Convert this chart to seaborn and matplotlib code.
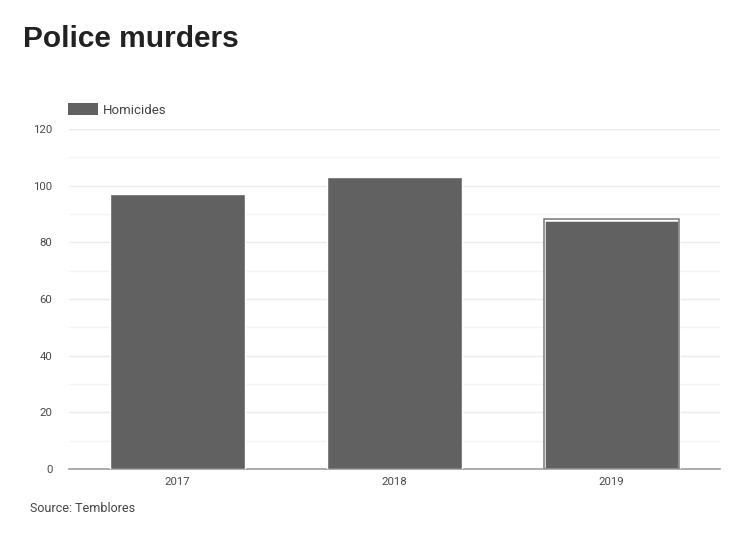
import matplotlib
matplotlib.use("Agg")
import matplotlib.pyplot as plt
import seaborn as sns
import pandas as pd
from matplotlib.patches import Patch

years = ["2017", "2018", "2019"]
homicides = [97, 103, 88]
y_ticks = [0, 20, 40, 60, 80, 100, 120]
minor_ticks = [10, 30, 50, 70, 90, 110]

df = pd.DataFrame({"year": years, "Homicides": homicides})

sns.set_style("white")
plt.rcParams["font.family"] = ["Roboto", "DejaVu Sans"]

fig = plt.figure(figsize=(7.46, 5.36), dpi=100)
ax = fig.add_axes([69 / 746, 1 - 469 / 536, 651 / 746, 340 / 536])

bar_color = "#616161"
sns.barplot(data=df, x="year", y="Homicides", color=bar_color, width=0.62,
            saturation=1, ax=ax, zorder=3)

# highlight outline on the last bar
last = ax.patches[-1]
last.set_edgecolor("white")
last.set_linewidth(1.8)
x0, w, h = last.get_x(), last.get_width(), last.get_height()
ax.add_patch(plt.Rectangle((x0, 0), w, h + 0.3, fill=False,
                           edgecolor="#777777", linewidth=1.1, zorder=4))

ax.set_ylim(0, 120)
ax.set_xlim(-0.5, 2.5)
ax.set_yticks(y_ticks)
ax.set_yticks(minor_ticks, minor=True)
ax.grid(axis="y", which="major", color="#ebebeb", linewidth=1, zorder=0)
ax.grid(axis="y", which="minor", color="#f3f3f3", linewidth=1, zorder=0)
ax.tick_params(axis="both", which="both", length=0, labelsize=8.2, labelcolor="#4a4a4a")
ax.tick_params(axis="y", pad=12)
ax.tick_params(axis="x", pad=6)
ax.set_xlabel("")
ax.set_ylabel("")
for s in ["top", "right", "left"]:
    ax.spines[s].set_visible(False)
ax.spines["bottom"].set_color("#9e9e9e")
ax.spines["bottom"].set_linewidth(1.2)

handle = Patch(facecolor=bar_color, edgecolor="none")
ax.legend([handle], ["Homicides"], loc="lower left", bbox_to_anchor=(-0.002, 1.036),
          frameon=False, fontsize=9.5, handlelength=2.3, handleheight=1.0,
          handletextpad=0.4, borderaxespad=0, borderpad=0, labelcolor="#444444")

fig.text(23 / 746, 1 - 39 / 536, "Police murders", fontsize=21.5, fontweight="bold",
         color="#222222", va="center", ha="left", family=["Liberation Sans", "DejaVu Sans"])
fig.text(30 / 746, 1 - 508 / 536, "Source: Temblores", fontsize=9,
         color="#444444", va="center", ha="left")

fig.savefig("out.png", dpi=100)
